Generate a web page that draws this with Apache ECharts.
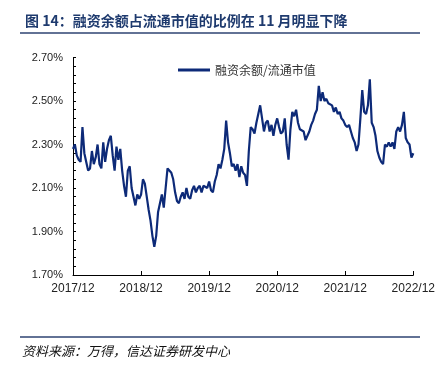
<!DOCTYPE html>
<html><head><meta charset="utf-8">
<script src="https://cdn.jsdelivr.net/npm/echarts@6/dist/echarts.min.js"></script>
<style>html,body{margin:0;padding:0;background:#fff}#c{width:438px;height:370px}</style>
</head><body><div id="c"></div>
<script>
const titleText = '图 14：融资余额占流通市值的比例在 11 月明显下降';
const sourceText = '资料来源：万得，信达证券研发中心';
const seriesName = '融资余额/流通市值';

// ratio (%) sampled on the 1st, 11th and 21st of each month, 2017/12/01 .. 2022/12/01
const ratio = [
  2.28,2.30,2.25,2.23,2.22,2.38,2.26,2.22,2.18,2.19,
  2.27,2.21,2.24,2.30,2.21,2.19,2.31,2.22,2.28,2.32,
  2.34,2.25,2.18,2.29,2.23,2.28,2.18,2.11,2.06,2.18,
  2.20,2.10,2.06,2.02,2.07,2.05,2.07,2.14,2.12,2.06,
  2.00,1.95,1.88,1.83,1.88,1.99,1.99,2.07,2.01,2.10,
  2.19,2.19,2.17,2.14,2.08,2.04,2.03,2.06,2.08,2.05,
  2.10,2.06,2.05,2.09,2.11,2.08,2.10,2.11,2.08,2.11,
  2.11,2.10,2.13,2.09,2.08,2.13,2.16,2.21,2.19,2.23,
  2.28,2.41,2.31,2.26,2.20,2.21,2.18,2.21,2.15,2.20,
  2.17,2.16,2.11,2.27,2.38,2.37,2.35,2.40,2.44,2.48,
  2.42,2.36,2.40,2.41,2.36,2.39,2.34,2.39,2.42,2.38,
  2.35,2.36,2.42,2.30,2.23,2.37,2.45,2.43,2.46,2.40,
  2.37,2.37,2.36,2.32,2.34,2.36,2.39,2.41,2.44,2.46,
  2.57,2.50,2.54,2.50,2.51,2.49,2.49,2.48,2.45,2.47,
  2.44,2.45,2.42,2.41,2.39,2.38,2.39,2.36,2.33,2.31,
  2.27,2.30,2.42,2.55,2.45,2.44,2.48,2.60,2.40,2.38,
  2.34,2.27,2.24,2.22,2.21,2.30,2.29,2.31,2.29,2.31,
  2.28,2.36,2.38,2.36,2.39,2.45,2.33,2.31,2.30,2.24,
  2.26
];

const xTickLabels = ['2017/12','2018/12','2019/12','2020/12','2021/12','2022/12'];
const yTickLabels = ['1.70%','1.90%','2.10%','2.30%','2.50%','2.70%'];
const yMin = 1.70, yMax = 2.70, yTickStep = 0.04;

// category dates
const categories = [];
(function(){
  let y = 2017, m = 12;
  while (true) {
    const mm = String(m).padStart(2,'0');
    for (const d of ['01','11','21']) {
      categories.push(y + '/' + mm + '/' + d);
      if (y === 2022 && m === 12) return;
    }
    m++; if (m > 12) { m = 1; y++; }
  }
})();

const isDec1 = (v) => /\/12\/01$/.test(v);

const chart = echarts.init(document.getElementById('c'), null, {renderer:'canvas'});
const option = {
  backgroundColor: '#fff',
  animation: false,
  title: {
    text: titleText, left: 20, top: 9,
    textStyle: {fontSize: 14, fontWeight: 'bold', color: '#1e3a6e', fontFamily: 'Noto Sans CJK SC'}
  },
  legend: {
    data: [{name: seriesName, icon: 'rect'}],
    left: 173, top: 59, itemWidth: 32, itemHeight: 3, itemGap: 4,
    textStyle: {fontSize: 12, color: '#333', fontFamily: 'Noto Sans CJK SC'}
  },
  grid: {left: 73, right: 24, top: 57.5, bottom: 95, containLabel: false},
  xAxis: {
    type: 'category', data: categories, boundaryGap: false,
    axisLine: {lineStyle: {color: '#000', width: 1}},
    axisTick: {inside: true, length: 4, lineStyle: {color: '#000'},
      interval: (i, v) => isDec1(v)},
    axisLabel: {interval: (i, v) => isDec1(v), margin: 8, fontSize: 12, color: '#222',
      fontFamily: 'Liberation Sans',
      formatter: (v) => xTickLabels[parseInt(v.slice(0,4),10) - 2017]},
    splitLine: {show: false}
  },
  yAxis: {
    type: 'value', min: 0, max: +(yMax - yMin).toFixed(2), interval: yTickStep,
    axisLine: {show: true, lineStyle: {color: '#000', width: 1}},
    axisTick: {show: true, inside: true, length: 3, lineStyle: {color: '#000'}},
    axisLabel: {fontSize: 11, color: '#222', margin: 10, fontFamily: 'Liberation Sans',
      formatter: (v) => { const k = Math.round(v / yTickStep); return k % 5 === 0 ? yTickLabels[k/5] : ''; }},
    splitLine: {show: false}
  },
  series: [{
    name: seriesName, type: 'line', showSymbol: false, symbol: 'none',
    lineStyle: {color: '#0d2a78', width: 2.2},
    itemStyle: {color: '#0d2a78'},
    data: ratio.map(v => +(v - yMin).toFixed(4))
  }],
  graphic: [
    {type: 'line', shape: {x1: 20, y1: 33, x2: 420, y2: 33}, style: {stroke: '#2e4372', lineWidth: 1.5}},
    {type: 'line', shape: {x1: 20, y1: 337, x2: 420, y2: 337}, style: {stroke: '#2e4372', lineWidth: 1.5}},
    {type: 'text', left: 22, top: 345, style: {text: sourceText, font: 'italic 13px "Noto Sans CJK SC"', fill: '#111'}}
  ]
};
chart.setOption(option);
</script>
</body></html>
